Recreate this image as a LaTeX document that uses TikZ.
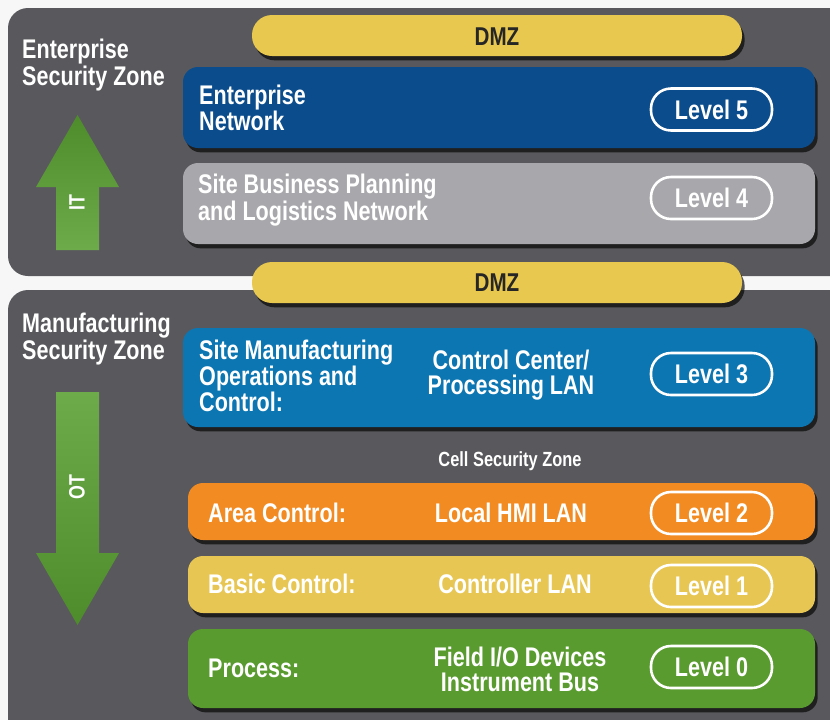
\documentclass[tikz,border=0pt]{standalone}
\usepackage{fontspec}
\setmainfont[FakeStretch=0.8]{Liberation Sans}
\usetikzlibrary{shadows}

\definecolor{zonegray}{HTML}{59595D}
\definecolor{dmzyellow}{HTML}{E9C84F}
\definecolor{entblue}{HTML}{0B4C8C}
\definecolor{bizgray}{HTML}{A8A8AC}
\definecolor{mfgblue}{HTML}{0C76B2}
\definecolor{areaorange}{HTML}{F28B22}
\definecolor{basicyellow}{HTML}{E8C653}
\definecolor{procgreen}{HTML}{5A9B30}
\definecolor{arrowlight}{HTML}{6DAA4A}
\definecolor{arrowdark}{HTML}{4E8C2B}

\tikzset{
	zone/.style={fill=zonegray, rounded corners=0.6cm},
	band/.style={rounded corners=0.45cm,
		drop shadow={shadow xshift=0.08cm, shadow yshift=-0.13cm, opacity=0.65, fill=black}},
	dmzband/.style={band, fill=dmzyellow, rounded corners=0.6cm},
	lbl/.style={inner sep=0pt, text=white, align=left,
		font=\bfseries\fontsize{23}{20.5}\selectfont},
	midlbl/.style={inner sep=0pt, text=white, align=center,
		font=\bfseries\fontsize{23}{21.5}\selectfont},
	level/.style={draw=white, line width=2.2pt, rounded corners=0.6cm,
		minimum width=3.63cm, minimum height=1.26cm, inner sep=0pt,
		text=white, font=\bfseries\fontsize{23}{20.5}\selectfont},
	dmzlbl/.style={inner sep=0pt, text=black!85,
		font=\bfseries\fontsize{22}{22}\selectfont},
	arrowlbl/.style={inner sep=0pt, text=white, rotate=90,
		font=\bfseries\fontsize{19}{19}\selectfont}
}

\begin{document}
\begin{tikzpicture}[x=0.03cm, y=-0.03cm]
	\useasboundingbox (0,0) rectangle (830,720);
	\clip (0,0) rectangle (830,720);
	\fill[gray!6] (0,0) rectangle (830,720);
	
	%zones
	\fill[zone] (8,8) rectangle (870,276);	 %enterprise
	\fill[zone] (8,290) rectangle (870,770); %manufacturing
	
	\node[lbl, anchor=north west] (entzone) at (22,39)  {Enterprise\\Security Zone};
	\node[lbl, anchor=north west] (mfgzone) at (22,313) {Manufacturing\\Security Zone};
	
	%IT / OT arrows
	\shade[top color=arrowdark, bottom color=arrowlight]
		(77.5,115)--(119,187)--(99,187)--(99,250)--(56,250)--(56,187)--(36,187)--cycle;
	\shade[top color=arrowlight, bottom color=arrowdark]
		(56,392)--(99,392)--(99,553)--(119,553)--(77.5,625)--(36,553)--(56,553)--cycle;
	\node[arrowlbl] (it) at (77,203) {IT};
	\node[arrowlbl] (ot) at (77,487) {OT};
	
	%DMZ bands
	\path[dmzband] (252,15) rectangle (742,56);	 %top
	\path[dmzband] (252,262) rectangle (742,303); %bottom
	\node[dmzlbl] (dmztop) at (497,37) {DMZ};
	\node[dmzlbl] (dmzbot) at (497,283) {DMZ};
	
	%levels 5 and 4
	\path[band, fill=entblue] (183,67) rectangle (815,148);
	\path[band, fill=bizgray] (183,163) rectangle (815,244);
	\node[lbl, anchor=west] (ent) at (199,108) {Enterprise\\Network};
	\node[lbl, anchor=west] (biz) at (198,200) {Site Business Planning\\and Logistics Network};
	\node[level] (lv5) at (711.5,109.5) {Level 5};
	\node[level] (lv4) at (711.5,198) {Level 4};
	
	%level 3
	\path[band, fill=mfgblue] (183,328) rectangle (815,427);
	\node[lbl, anchor=west] (mfg) at (199,376) {Site Manufacturing\\Operations and\\Control:};
	\node[midlbl] (ccl) at (511,375) {Control Center/\\Processing LAN};
	\node[level] (lv3) at (711.5,374) {Level 3};
	
	\node[inner sep=0pt, text=white, font=\bfseries\fontsize{17.5}{17.5}\selectfont] (cell) at (510,461) {Cell Security Zone};
	
	%levels 2, 1, 0
	\path[band, fill=areaorange] (188,483) rectangle (815,540);
	\path[band, fill=basicyellow] (188,556) rectangle (815,613);
	\path[band, fill=procgreen] (188,629) rectangle (815,708);
	
	\node[lbl, anchor=west] (area) at (208,512.5) {Area Control:};
	\node[lbl, anchor=west] (basic) at (208,584) {Basic Control:};
	\node[lbl, anchor=west] (proc) at (208,668) {Process:};
	
	\node[midlbl] (hmi) at (511,512.5) {Local HMI LAN};
	\node[midlbl] (ctl) at (515,584) {Controller LAN};
	\node[midlbl] (fio) at (520,669) {Field I/O Devices\\Instrument Bus};
	
	\node[level] (lv2) at (711.5,513) {Level 2};
	\node[level] (lv1) at (711.5,586) {Level 1};
	\node[level] (lv0) at (711.5,667) {Level 0};
\end{tikzpicture}
\end{document}
